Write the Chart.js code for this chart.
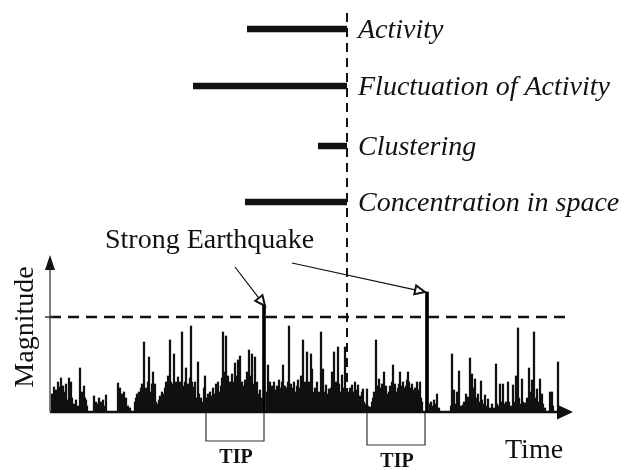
<!DOCTYPE html>
<html><head><meta charset="utf-8">
<script src="https://cdn.jsdelivr.net/npm/chart.js@4"></script>
<style>html,body{margin:0;padding:0;background:#fff}canvas{display:block}</style>
</head><body>
<canvas id="c" width="627" height="470"></canvas>
<script>
// ---- data (time units from axis origin, magnitude units) ----
const quakeEvents = [
[2,1.8],[3,1.0],[4,2.5],[6,2.2],[7,1.2],[8,3.0],[10,2.5],[11,3.4],[12,1.5],[13,2.6],[15,2.0],[16,2.8],[17,1.2],[19,3.4],[20,2.0],[21,3.0],[22,1.4],[24,0.8],[26,1.2],[28,0.6],
[30,4.4],[31,1.4],[32,2.0],[33,1.0],[34,2.6],[35,1.4],[36,1.2],[37,0.6],
[44,1.6],[45,0.6],[46,1.0],[48,0.8],[49,1.4],[50,0.6],[51,1.0],[53,1.2],[54,0.6],[56,1.7],
[68,2.9],[69,2.0],[70,2.4],[71,1.2],[72,1.8],[73,1.0],[74,2.0],[75,1.2],[76,1.4],[78,0.6],[80,0.4],
[85,1.0],[86,1.4],[87,1.8],[88,1.2],[89,2.0],[90,1.6],[91,2.4],[92,2.8],[93,1.8],[94,7.0],[95,2.0],[96,2.4],[97,1.4],[98,3.0],[99,5.5],[100,2.0],[101,1.2],[102,2.8],[103,4.0],[104,2.0],[105,2.8],[106,1.0],[107,0.6],[108,0.8],[109,1.2],[110,1.6],[111,1.2],[112,2.0],[113,1.4],[114,1.8],[115,2.4],[116,3.0],[117,1.8],[118,3.6],[119,2.2],[120,7.2],[121,3.0],[122,2.8],[123,2.0],[124,5.8],[125,2.6],[126,3.0],[127,2.2],[128,3.5],[129,2.4],[130,3.0],[131,2.0],[132,8.0],[133,2.6],[134,2.2],[135,3.0],[136,4.4],[137,2.5],[138,2.8],[139,2.0],[140,3.4],[141,8.6],[142,3.0],[143,2.5],[144,1.6],[145,3.0],[146,1.4],[147,1.2],[148,5.0],[149,1.8],[150,1.0],[151,1.4],[152,0.8],[153,1.0],[154,2.4],[155,3.6],[156,1.4],[157,1.0],[158,1.8],[159,0.8],[160,2.0],[161,1.2],[162,1.6],[163,2.4],[164,1.0],[165,1.8],[166,2.8],[167,1.2],[168,3.0],[169,2.0],[170,1.6],[171,2.6],[172,3.4],[173,8.0],[174,3.0],[175,4.0],[176,7.6],[177,2.0],[178,3.6],[179,1.6],[180,3.0],[181,2.2],[182,3.8],[183,2.4],[184,3.0],[185,4.9],[186,2.0],[187,3.6],[188,5.2],[189,2.8],[190,5.6],[191,2.4],[192,3.0],[193,1.8],[194,2.6],[195,3.2],[196,2.0],[197,4.0],[198,3.0],[199,6.2],[200,2.2],[201,3.6],[202,5.8],[203,2.0],[204,2.8],[205,5.5],[206,2.4],[207,3.0],[208,1.8],[209,1.6],[210,2.2],[211,1.2],[212,1.4],
[217,2.0],[218,4.7],[219,2.4],[220,3.0],[221,1.8],[222,2.6],[223,1.6],[224,3.0],[225,2.0],[226,2.2],[227,2.6],[228,1.4],[229,3.2],[230,2.0],[231,2.4],[232,3.0],[233,4.7],[234,2.0],[235,2.6],[236,1.8],[237,2.4],[238,3.0],[239,8.6],[240,2.2],[241,2.8],[242,1.6],[243,2.4],[244,3.0],[245,1.4],[246,2.0],[247,2.6],[248,3.2],[249,1.8],[250,2.4],[251,3.6],[252,2.0],[253,7.2],[254,2.6],[255,3.0],[256,2.0],[257,6.0],[258,2.4],[259,3.0],[260,1.8],[261,5.8],[262,4.3],[263,2.0],[264,1.6],[265,2.4],[266,1.8],[267,3.0],[268,1.2],[269,2.0],[270,1.4],[271,8.0],[272,2.4],[273,4.3],[274,1.6],[275,2.0],[276,2.7],[277,1.4],[278,1.8],[279,2.3],[280,1.6],[281,2.4],[282,4.0],[283,2.2],[284,6.0],[285,2.6],[286,3.0],[287,1.8],[288,6.5],[289,2.8],[290,1.3],[291,2.0],[292,3.7],[293,2.4],[294,1.6],[295,6.5],[296,2.0],[297,1.4],[298,1.8],[299,2.0],[300,2.4],[301,1.6],[302,2.7],[303,2.0],[304,1.4],[305,3.0],[306,2.2],[307,1.8],[308,2.7],[309,1.4],[310,1.6],[311,1.2],[312,2.0],[313,2.3],[314,1.0],[315,0.6],[316,0.8],[317,2.3],[318,0.6],[319,0.4],[320,0.5],[321,0.4],[322,1.0],[323,1.4],[324,2.0],[325,1.8],[326,7.2],[327,2.6],[328,2.0],[329,3.3],[330,2.4],[331,2.0],[332,2.8],[333,1.8],[334,4.0],[335,2.2],[336,2.6],[337,1.6],[338,1.8],[339,2.0],[340,2.6],[341,1.8],[342,3.0],[343,4.7],[344,2.2],[345,2.8],[346,1.6],[347,2.0],[348,2.4],[349,2.8],[350,4.0],[351,2.6],[352,2.0],[353,3.0],[354,2.4],[355,2.0],[356,2.6],[357,3.2],[358,4.0],[359,3.0],[360,2.4],[361,2.0],[362,2.8],[363,2.2],[364,1.6],[365,2.4],[366,2.0],[367,3.0],[368,1.8],[369,2.2],[370,3.0],[371,1.4],[372,1.0],
[380,0.8],[381,1.0],[382,0.6],[384,1.2],[386,0.8],[387,1.8],[389,0.4],
[401,0.6],[402,5.8],[403,1.0],[404,2.2],[405,0.8],[407,2.0],[408,0.8],[409,4.1],[410,0.6],[412,0.6],[413,0.7],[414,1.0],[416,1.8],[417,1.0],[418,1.5],[419,1.2],[420,5.4],[421,2.0],[422,3.8],[423,2.4],[424,2.0],[425,3.3],[426,1.4],[427,1.2],[428,1.8],[429,1.0],[431,3.1],[432,1.2],[433,0.8],[435,1.7],[436,0.6],[438,1.3],[440,0.4],[442,0.8],[444,0.4],[446,4.8],[447,0.8],[448,0.6],[450,2.8],[451,1.0],[453,2.8],[454,0.8],[456,1.0],[458,3.0],[459,1.0],[461,0.6],[463,2.7],[464,1.0],[466,3.6],[467,2.0],[468,8.4],[469,1.4],[470,0.8],[472,3.3],[473,1.0],[475,0.9],[477,1.4],[479,4.4],[480,1.6],[481,2.0],[482,3.2],[483,1.8],[484,8.0],[485,1.4],[487,2.3],[488,1.0],[490,3.3],[491,1.6],[492,1.8],[493,0.8],[495,0.4],[500,2.0],[501,0.6],[502,2.0],[503,0.6],[508,5.0]
];
const strongTimes = [214, 377];
const strongMags = [10.7, 12.0];
const threshold = 9.5;
const nowTime = 297;
const indicatorNames = ['Activity', 'Fluctuation of Activity', 'Clustering', 'Concentration in space'];
const indicatorStart = [197, 143, 268, 195];
const indicatorLevel = [38.3, 32.6, 26.6, 21.0];
const tipStart = [156, 317];
const tipEnd = [214, 375];
const tipDepth = [-2.9, -3.3];
const timeAxisEnd = 523;
const magAxisTop = 15.7;
const thresholdEnd = 517;

// ---- chart ----
const SERIF = '"Liberation Serif", "DejaVu Serif", serif';
const lineDs = (data, extra) => Object.assign({
  type: 'line', data, borderColor: '#111', borderWidth: 1.5, pointRadius: 0,
  fill: false, tension: 0, borderCapStyle: 'butt'
}, extra);

const datasets = [
  { type: 'bar', data: quakeEvents.map(e => ({x: e[0], y: e[1]})), backgroundColor: '#111',
    barThickness: 1.6, grouped: false, borderWidth: 0 },
  { type: 'bar', data: strongTimes.map((t, i) => ({x: t, y: strongMags[i]})), backgroundColor: '#000',
    barThickness: 3, grouped: false, borderWidth: 0 },
  lineDs([{x: 0, y: threshold}, {x: thresholdEnd, y: threshold}], {borderWidth: 2.5, borderDash: [11, 7]}),
  lineDs([{x: nowTime, y: 0}, {x: nowTime, y: 40.2}], {borderWidth: 2, borderDash: [9, 6]}),
  lineDs([{x: 0, y: 0}, {x: 0, y: magAxisTop - 1}], {borderWidth: 1.5, borderColor: '#555'}),
  lineDs([{x: 0, y: 0}, {x: timeAxisEnd - 10, y: 0}], {borderWidth: 2.5}),
];
indicatorNames.forEach((n, i) => datasets.push(
  lineDs([{x: indicatorStart[i], y: indicatorLevel[i]}, {x: nowTime, y: indicatorLevel[i]}], {borderWidth: 6.5})));
tipStart.forEach((s, i) => datasets.push(
  lineDs([{x: s, y: 0}, {x: s, y: tipDepth[i]}, {x: tipEnd[i], y: tipDepth[i]}, {x: tipEnd[i], y: 0}],
    {borderWidth: 1.2, borderColor: '#333'})));

const decor = {
  id: 'decor',
  afterDatasetsDraw(chart) {
    const {ctx, scales: {x, y}} = chart;
    const px = v => x.getPixelForValue(v), py = v => y.getPixelForValue(v);
    ctx.save();
    ctx.fillStyle = '#111';
    // y axis arrow head
    ctx.beginPath();
    ctx.moveTo(px(0), py(magAxisTop));
    ctx.lineTo(px(0) - 5, py(magAxisTop) + 15);
    ctx.lineTo(px(0) + 5, py(magAxisTop) + 15);
    ctx.closePath(); ctx.fill();
    // x axis arrow head
    ctx.beginPath();
    ctx.moveTo(px(timeAxisEnd), py(0));
    ctx.lineTo(px(timeAxisEnd) - 16, py(0) - 7.5);
    ctx.lineTo(px(timeAxisEnd) - 16, py(0) + 7.5);
    ctx.closePath(); ctx.fill();
    // threshold tick on y axis
    ctx.strokeStyle = '#333'; ctx.lineWidth = 1.5;
    ctx.beginPath(); ctx.moveTo(px(0) - 5, py(threshold)); ctx.lineTo(px(0) + 3, py(threshold)); ctx.stroke();

    // arrows to strong earthquakes
    const arrow = (x1, y1, x2, y2) => {
      const a = Math.atan2(y2 - y1, x2 - x1), L = 10, W = 4.5;
      const bx = x2 - L * Math.cos(a), by = y2 - L * Math.sin(a);
      ctx.strokeStyle = '#111'; ctx.lineWidth = 1.2;
      ctx.beginPath(); ctx.moveTo(x1, y1); ctx.lineTo(bx, by); ctx.stroke();
      ctx.lineWidth = 2;
      ctx.beginPath();
      ctx.moveTo(x2, y2);
      ctx.lineTo(bx + W * Math.sin(a), by - W * Math.cos(a));
      ctx.lineTo(bx - W * Math.sin(a), by + W * Math.cos(a));
      ctx.closePath();
      ctx.fillStyle = '#fff'; ctx.fill(); ctx.stroke();
    };
    arrow(px(185), py(14.5), px(strongTimes[0]) + 1, py(strongMags[0]) + 1);
    arrow(px(242), py(14.9), px(strongTimes[1]) - 2, py(strongMags[1]));

    ctx.fillStyle = '#111';
    ctx.textBaseline = 'alphabetic';
    // indicator labels
    ctx.font = 'italic 28px ' + SERIF;
    ctx.textAlign = 'left';
    indicatorNames.forEach((n, i) => ctx.fillText(n, px(nowTime) + 11, py(indicatorLevel[i]) + 8.5));
    // Strong Earthquake
    ctx.font = '28px ' + SERIF;
    ctx.fillText('Strong Earthquake', px(55), py(16.4));
    // Time
    ctx.fillText('Time', px(455), py(-4.6));
    // TIP labels
    ctx.font = 'bold 20px ' + SERIF;
    ctx.textAlign = 'center';
    tipStart.forEach((s, i) => ctx.fillText('TIP', px((s + tipEnd[i]) / 2) + 1, py(tipDepth[i]) + 22));
    // Magnitude
    ctx.font = '28px ' + SERIF;
    ctx.translate(px(-17), py(8.5));
    ctx.rotate(-Math.PI / 2);
    ctx.fillText('Magnitude', 0, 0);
    ctx.restore();
  }
};

new Chart(document.getElementById('c'), {
  type: 'bar',
  data: { datasets },
  options: {
    responsive: false, animation: false, devicePixelRatio: 1,
    layout: { padding: 0 },
    plugins: { legend: { display: false }, tooltip: { enabled: false } },
    scales: {
      x: { type: 'linear', min: -50, max: 577, display: false, offset: false },
      y: { type: 'linear', min: -5.8, max: 41.2, display: false }
    }
  },
  plugins: [decor]
});
</script>
</body></html>
